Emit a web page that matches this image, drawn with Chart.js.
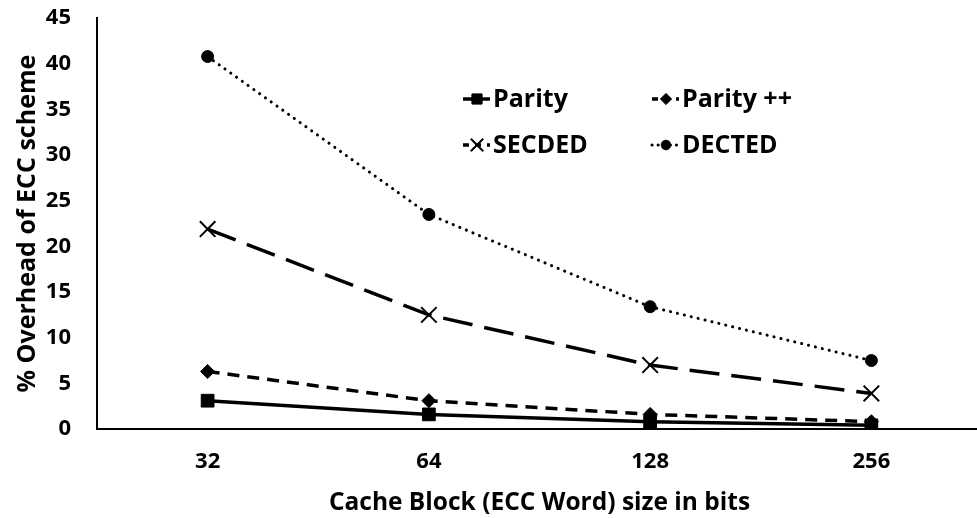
<!DOCTYPE html>
<html>
<head>
<meta charset="utf-8">
<script src="https://cdn.jsdelivr.net/npm/chart.js@4.4.1/dist/chart.umd.min.js"></script>
<style>
  html, body { margin: 0; padding: 0; background: #fff; overflow: hidden; }
  #wrap { width: 995px; height: 539px; margin-top: -21px; }
</style>
</head>
<body>
<div id="wrap"><canvas id="eccChart"></canvas></div>
<script>
const blockSizes = ["32", "64", "128", "256"];
const parity = [3.1, 1.6, 0.8, 0.4];
const parityPP = [6.3, 3.1, 1.6, 0.8];
const secded = [21.9, 12.5, 7.0, 3.9];
const dected = [40.8, 23.5, 13.4, 7.5];

const FONT = "'Open Sans', 'Liberation Sans', sans-serif";

// legend drawn inside the plot, 2 x 2 (canvas is shifted up 21px)
const legendBox = {
  id: 'legendBox',
  afterDraw(chart) {
    const ctx = chart.ctx;
    const spots = [[463, 120], [652, 120], [463, 166], [652, 166]];
    chart.data.datasets.forEach((ds, i) => {
      const [x, y] = spots[i];
      ctx.save();
      ctx.strokeStyle = '#000';
      ctx.lineWidth = ds.borderWidth;
      ctx.setLineDash(ds.borderDash ? ds.borderDash.map(v => Math.min(v, 6)) : []);
      ctx.lineCap = ds.borderCapStyle || 'butt';
      ctx.beginPath();
      ctx.moveTo(x, y);
      ctx.lineTo(x + 27, y);
      ctx.stroke();
      ctx.setLineDash([]);
      ctx.fillStyle = '#000';
      ctx.lineWidth = ds.pointBorderWidth || 1;
      Chart.helpers.drawPoint(ctx, {
        pointStyle: ds.pointStyle, radius: ds.pointRadius * 0.8, rotation: 0, borderWidth: ds.pointBorderWidth || 1
      }, x + 14, y);
      ctx.font = "bold 25px " + FONT;
      ctx.textBaseline = 'middle';
      ctx.fillText(ds.label, x + 30, y + 1);
      ctx.restore();
    });
  }
};

new Chart(document.getElementById('eccChart'), {
  type: 'line',
  data: {
    labels: blockSizes,
    datasets: [
      { label: 'Parity', data: parity, borderColor: '#000', backgroundColor: '#000', borderWidth: 3.5,
        pointStyle: 'rect', pointRadius: 9, pointBorderWidth: 1 },
      { label: 'Parity ++', data: parityPP, borderColor: '#000', backgroundColor: '#000', borderWidth: 3.5,
        borderDash: [12, 8], pointStyle: 'rectRot', pointRadius: 7, pointBorderWidth: 1 },
      { label: 'SECDED', data: secded, borderColor: '#000', backgroundColor: '#000', borderWidth: 3.5,
        borderDash: [30, 12], pointStyle: 'crossRot', pointRadius: 11, pointBorderWidth: 2 },
      { label: 'DECTED', data: dected, borderColor: '#000', backgroundColor: '#000', borderWidth: 3,
        borderDash: [0.1, 7], borderCapStyle: 'round', pointStyle: 'circle', pointRadius: 6, pointBorderWidth: 1 }
    ]
  },
  options: {
    responsive: true,
    maintainAspectRatio: false,
    animation: false,
    layout: { padding: 0 },
    plugins: { legend: { display: false }, tooltip: { enabled: false } },
    scales: {
      x: {
        offset: true,
        afterFit(scale) { scale.height = 89; },
        grid: { display: false, drawTicks: false },
        border: { color: '#000', width: 2 },
        ticks: { color: '#000', padding: 20, font: { family: FONT, size: 22, weight: 'bold' } },
        title: { display: true, text: 'Cache Block (ECC Word) size in bits', color: '#000',
                 padding: { top: 0, bottom: 0 }, font: { family: FONT, size: 24.5, weight: 'bold' } }
      },
      y: {
        min: 0, max: 45,
        afterFit(scale) { scale.width = 97; },
        grid: { display: false, drawTicks: false },
        border: { color: '#000', width: 2 },
        ticks: { stepSize: 5, color: '#000', padding: 26, font: { family: FONT, size: 22, weight: 'bold' } },
        title: { display: true, text: '% Overhead of ECC scheme', color: '#000',
                 padding: { top: 13, bottom: 0 }, font: { family: FONT, size: 25, weight: 'bold' } }
      }
    }
  },
  plugins: [legendBox]
});
</script>
</body>
</html>
